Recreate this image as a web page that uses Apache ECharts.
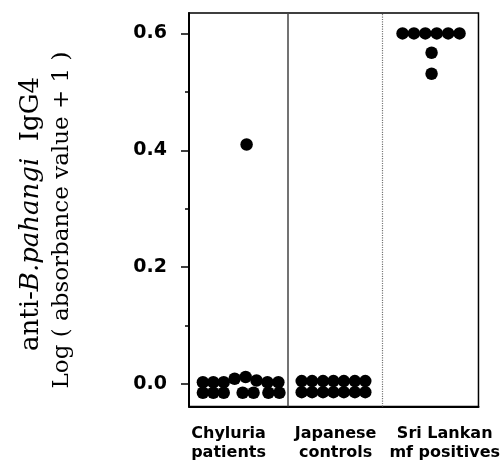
<!DOCTYPE html>
<html>
<head>
<meta charset="utf-8">
<script src="https://cdn.jsdelivr.net/npm/echarts@6/dist/echarts.min.js"></script>
<style>html,body{margin:0;padding:0;background:#fff;}#c{width:503px;height:466px;}</style>
</head>
<body>
<div id="c"></div>
<script>
// Categories (x positions are in category units: 0..3)
const categories = ['Chyluria\npatients', 'Japanese\ncontrols', 'Sri Lankan\nmf positives'];
const labelPositions = [0.41, 1.52, 2.65];
const dividers = [1.02, 2.0];

// Y tick labels
const majorTicks = [0, 0.2, 0.4, 0.6];
const minorTicks = [0.1, 0.3, 0.5];

// Chyluria patients
const chyluriaX = [0.144, 0.252, 0.360, 0.473, 0.587, 0.700, 0.813, 0.926,
                   0.144, 0.252, 0.360, 0.556, 0.669, 0.823, 0.937, 0.597];
const chyluriaY = [0.003, 0.003, 0.003, 0.009, 0.012, 0.006, 0.003, 0.003,
                   -0.015, -0.015, -0.015, -0.015, -0.015, -0.015, -0.015, 0.41];
// Japanese controls
const japaneseX = [1.168, 1.276, 1.389, 1.497, 1.605, 1.719, 1.827,
                   1.168, 1.276, 1.389, 1.497, 1.605, 1.719, 1.827];
const japaneseY = [0.005, 0.005, 0.005, 0.005, 0.005, 0.005, 0.005,
                   -0.014, -0.014, -0.014, -0.014, -0.014, -0.014, -0.014];
// Sri Lankan mf positives
const sriLankaX = [2.213, 2.331, 2.449, 2.568, 2.686, 2.804, 2.514, 2.514];
const sriLankaY = [0.6, 0.6, 0.6, 0.6, 0.6, 0.6, 0.567, 0.531];

function pairs(xs, ys) { return xs.map((x, i) => [x, ys[i]]); }
const points = [].concat(pairs(chyluriaX, chyluriaY), pairs(japaneseX, japaneseY), pairs(sriLankaX, sriLankaY));

const chart = echarts.init(document.getElementById('c'), null, {renderer: 'canvas'});
const sansBold = {fontFamily: 'DejaVu Sans', fontWeight: 'bold', color: '#000'};
chart.setOption({
  animation: false,
  backgroundColor: '#fff',
  grid: {left: 189, right: 22.5, top: 13, bottom: 59.5, show: true, borderColor: '#000', borderWidth: 1.5, backgroundColor: 'transparent'},
  xAxis: {
    type: 'value', min: 0, max: 3,
    axisLine: {show: true, onZero: false, lineStyle: {color: '#000', width: 2}},
    axisTick: {show: false},
    splitLine: {show: false},
    axisLabel: {
      customValues: labelPositions,
      formatter: function (v) { const i = labelPositions.indexOf(v); return i >= 0 ? categories[i] : ''; },
      fontSize: 16, lineHeight: 19, margin: 18, ...sansBold
    }
  },
  yAxis: [{
    type: 'value', min: -0.0385, max: 0.635,
    axisLine: {show: true, onZero: false, lineStyle: {color: '#000', width: 2}},
    axisTick: {show: true, customValues: majorTicks, length: 8, lineStyle: {color: '#000', width: 1.5}},
    axisLabel: {customValues: majorTicks, formatter: v => v.toFixed(1), fontSize: 19, margin: 22, ...sansBold},
    splitLine: {show: false}
  }, {
    type: 'value', min: -0.0385, max: 0.635, position: 'left',
    axisLine: {show: false},
    axisTick: {show: true, customValues: minorTicks, length: 4, lineStyle: {color: '#000', width: 1.5}},
    axisLabel: {show: false},
    splitLine: {show: false}
  }],
  graphic: [{
    type: 'text', x: 31, y: 214, rotation: Math.PI / 2,
    style: {
      text: '{r|anti-}{i|B.pahangi}{r|  IgG4}',
      align: 'center', verticalAlign: 'middle',
      rich: {
        r: {fontFamily: 'DejaVu Serif', fontSize: 26, fill: '#000'},
        i: {fontFamily: 'DejaVu Serif', fontStyle: 'italic', fontSize: 26, fill: '#000'}
      }
    }
  }, {
    type: 'text', x: 62, y: 220, rotation: Math.PI / 2,
    style: {
      text: 'Log ( absorbance value + 1 )',
      align: 'center', verticalAlign: 'middle',
      fontFamily: 'DejaVu Serif', fontSize: 23, fill: '#000'
    }
  }],
  series: [{
    type: 'scatter',
    symbol: 'circle', symbolSize: 12.5,
    itemStyle: {color: '#000', opacity: 1},
    data: points,
    markLine: {
      silent: true, symbol: 'none', label: {show: false},
      data: [
        {xAxis: dividers[0], lineStyle: {type: 'solid', color: '#444', width: 1.5}},
        {xAxis: dividers[1], lineStyle: {type: 'dotted', color: '#777', width: 1.2}}
      ]
    }
  }]
});
</script>
</body>
</html>
